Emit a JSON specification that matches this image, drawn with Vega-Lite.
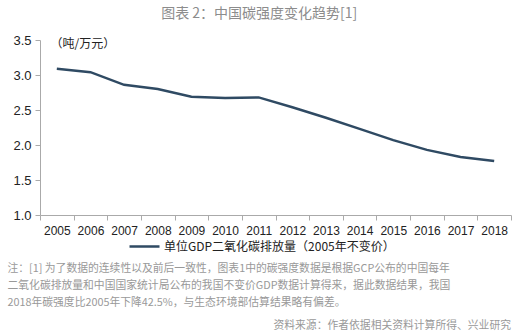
{
  "$schema": "https://vega.github.io/schema/vega-lite/v6.json",
  "autosize": "none",
  "width": 471,
  "height": 175,
  "padding": {"left": 40, "top": 40, "right": 14, "bottom": 119},
  "background": "white",
  "title": {
    "text": "图表 2：中国碳强度变化趋势[1]",
    "font": "Noto Sans CJK SC",
    "fontSize": 14,
    "fontWeight": "normal",
    "color": "#8c8c8c",
    "anchor": "middle",
    "frame": "bounds",
    "offset": 13
  },
  "config": {"view": {"stroke": null}},
  "layer": [
    {
      "data": {
        "values": [
          {"year": "2005", "value": 3.09, "series": "单位GDP二氧化碳排放量（2005年不变价）"},
          {"year": "2006", "value": 3.04, "series": "单位GDP二氧化碳排放量（2005年不变价）"},
          {"year": "2007", "value": 2.86, "series": "单位GDP二氧化碳排放量（2005年不变价）"},
          {"year": "2008", "value": 2.80, "series": "单位GDP二氧化碳排放量（2005年不变价）"},
          {"year": "2009", "value": 2.69, "series": "单位GDP二氧化碳排放量（2005年不变价）"},
          {"year": "2010", "value": 2.67, "series": "单位GDP二氧化碳排放量（2005年不变价）"},
          {"year": "2011", "value": 2.68, "series": "单位GDP二氧化碳排放量（2005年不变价）"},
          {"year": "2012", "value": 2.54, "series": "单位GDP二氧化碳排放量（2005年不变价）"},
          {"year": "2013", "value": 2.39, "series": "单位GDP二氧化碳排放量（2005年不变价）"},
          {"year": "2014", "value": 2.23, "series": "单位GDP二氧化碳排放量（2005年不变价）"},
          {"year": "2015", "value": 2.07, "series": "单位GDP二氧化碳排放量（2005年不变价）"},
          {"year": "2016", "value": 1.93, "series": "单位GDP二氧化碳排放量（2005年不变价）"},
          {"year": "2017", "value": 1.83, "series": "单位GDP二氧化碳排放量（2005年不变价）"},
          {"year": "2018", "value": 1.77, "series": "单位GDP二氧化碳排放量（2005年不变价）"}
        ]
      },
      "mark": {"type": "line", "strokeWidth": 2.5},
      "encoding": {
        "x": {
          "field": "year",
          "type": "ordinal",
          "bandPosition": 0.5,
          "scale": {"type": "band", "paddingInner": 0, "paddingOuter": 0},
          "axis": {
            "title": [
              "注：[1] 为了数据的连续性以及前后一致性，图表1中的碳强度数据是根据GCP公布的中国每年",
              "二氧化碳排放量和中国国家统计局公布的我国不变价GDP数据计算得来，据此数据结果，我国",
              "2018年碳强度比2005年下降42.5%，与生态环境部估算结果略有偏差。"
            ],
            "titleFont": "Noto Sans CJK SC",
            "titleFontSize": 10.8,
            "titleFontWeight": "normal",
            "titleColor": "#999999",
            "titleAnchor": "start",
            "titleAlign": "left",
            "titleBaseline": "middle",
            "titleX": -33,
            "titleY": 53,
            "titleLineHeight": 17,
            "labelAngle": 0,
            "labelFont": "Liberation Sans",
            "labelFontSize": 12,
            "labelColor": "#222222",
            "labelPadding": 5,
            "tickBand": "extent",
            "tickSize": 5,
            "tickColor": "#aaaaaa",
            "domainColor": "#aaaaaa",
            "grid": false
          }
        },
        "y": {
          "field": "value",
          "type": "quantitative",
          "scale": {"domain": [1, 3.5], "nice": false, "zero": false},
          "axis": {
            "values": [1, 1.5, 2, 2.5, 3, 3.5],
            "format": ".1f",
            "title": "（吨/万元）",
            "titleFont": "Noto Sans CJK SC",
            "titleFontSize": 12,
            "titleFontWeight": "normal",
            "titleColor": "#222222",
            "titleAngle": 0,
            "titleAlign": "left",
            "titleBaseline": "middle",
            "titleX": 10,
            "titleY": 3,
            "labelFont": "Liberation Sans",
            "labelFontSize": 13,
            "labelColor": "#222222",
            "labelPadding": 4,
            "tickSize": 5,
            "tickColor": "#aaaaaa",
            "domainColor": "#aaaaaa",
            "grid": false
          }
        },
        "color": {
          "field": "series",
          "type": "nominal",
          "scale": {"range": ["#2f4a63"]},
          "legend": {
            "title": null,
            "orient": "none",
            "legendX": 88,
            "legendY": 190,
            "symbolType": "stroke",
            "symbolSize": 900,
            "symbolStrokeWidth": 2.5,
            "labelFont": "Noto Sans CJK SC",
            "labelFontSize": 12,
            "labelColor": "#222222",
            "labelOffset": 3,
            "labelLimit": 400
          }
        }
      }
    },
    {
      "data": {"values": [{"src": "资料来源：作者依据相关资料计算所得、兴业研究"}]},
      "mark": {
        "type": "text",
        "align": "right",
        "baseline": "middle",
        "font": "Noto Sans CJK SC",
        "fontSize": 10.8,
        "color": "#999999"
      },
      "encoding": {
        "text": {"field": "src"},
        "x": {"value": 471},
        "y": {"value": 286}
      }
    }
  ]
}
